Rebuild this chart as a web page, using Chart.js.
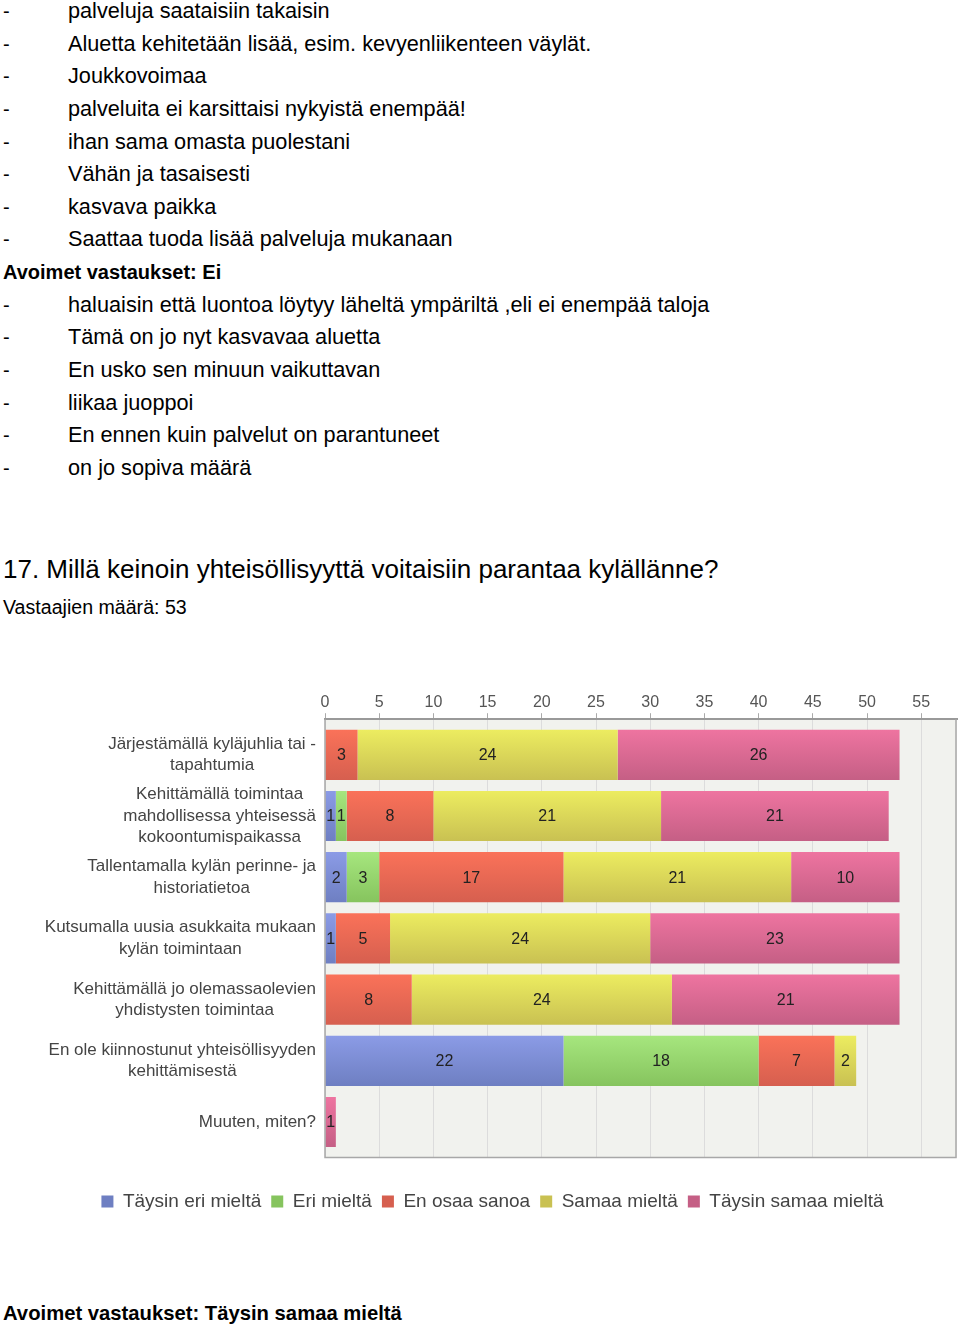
<!DOCTYPE html>
<html>
<head>
<meta charset="utf-8">
<script src="https://cdn.jsdelivr.net/npm/chart.js@4"></script>
<style>
  body { margin: 0; background: #fff; font-family: 'Liberation Sans', Arial, sans-serif; color: #000; }
  .page { position: relative; width: 960px; height: 1331px; overflow: hidden; }
  .answers { position: absolute; left: 0; top: -5px; font-size: 20px; line-height: 32.65px; }
  .answers div { position: relative; height: 32.65px; white-space: nowrap; }
  .answers .d { position: absolute; left: 3px; }
  .answers .t { position: absolute; left: 68px; font-size: 21.7px; }
  .answers .h { position: absolute; left: 3px; font-weight: bold; }
  .q { position: absolute; left: 3px; top: 554px; font-size: 26px; white-space: nowrap; }
  .n { position: absolute; left: 3px; top: 596px; font-size: 19.6px; white-space: nowrap; }
  .foot { position: absolute; left: 3px; top: 1302px; font-size: 20.25px; font-weight: bold; white-space: nowrap; }
  .chartbox { position: absolute; left: 0; top: 680px; width: 960px; height: 560px; }
</style>
</head>
<body>
<div class="page">
  <div class="answers">
    <div><span class="d">-</span><span class="t">palveluja saataisiin takaisin</span></div>
    <div><span class="d">-</span><span class="t">Aluetta kehitetään lisää, esim. kevyenliikenteen väylät.</span></div>
    <div><span class="d">-</span><span class="t">Joukkovoimaa</span></div>
    <div><span class="d">-</span><span class="t">palveluita ei karsittaisi nykyistä enempää!</span></div>
    <div><span class="d">-</span><span class="t">ihan sama omasta puolestani</span></div>
    <div><span class="d">-</span><span class="t">Vähän ja tasaisesti</span></div>
    <div><span class="d">-</span><span class="t">kasvava paikka</span></div>
    <div><span class="d">-</span><span class="t">Saattaa tuoda lisää palveluja mukanaan</span></div>
    <div><span class="h">Avoimet vastaukset: Ei</span></div>
    <div><span class="d">-</span><span class="t">haluaisin että luontoa löytyy läheltä ympäriltä ,eli ei enempää taloja</span></div>
    <div><span class="d">-</span><span class="t">Tämä on jo nyt kasvavaa aluetta</span></div>
    <div><span class="d">-</span><span class="t">En usko sen minuun vaikuttavan</span></div>
    <div><span class="d">-</span><span class="t">liikaa juoppoi</span></div>
    <div><span class="d">-</span><span class="t">En ennen kuin palvelut on parantuneet</span></div>
    <div><span class="d">-</span><span class="t">on jo sopiva määrä</span></div>
  </div>
  <div class="q">17. Millä keinoin yhteisöllisyyttä voitaisiin parantaa kylällänne?</div>
  <div class="n">Vastaajien määrä: 53</div>
  <div class="chartbox"><canvas id="chart"></canvas></div>
  <div class="foot">Avoimet vastaukset: Täysin samaa mieltä</div>
</div>
<script>
const categories = [
  ['Järjestämällä kyläjuhlia tai -', 'tapahtumia'],
  ['Kehittämällä toimintaa', 'mahdollisessa yhteisessä', 'kokoontumispaikassa'],
  ['Tallentamalla kylän perinne- ja', 'historiatietoa'],
  ['Kutsumalla uusia asukkaita mukaan', 'kylän toimintaan'],
  ['Kehittämällä jo olemassaolevien', 'yhdistysten toimintaa'],
  ['En ole kiinnostunut yhteisöllisyyden', 'kehittämisestä'],
  ['Muuten, miten?']
];
const seriesNames = ['Täysin eri mieltä', 'Eri mieltä', 'En osaa sanoa', 'Samaa mieltä', 'Täysin samaa mieltä'];
const taysinEri = [0, 1, 2, 1, 0, 22, 0];
const eri = [0, 1, 3, 0, 0, 18, 0];
const enOsaa = [3, 8, 17, 5, 8, 7, 0];
const samaa = [24, 21, 21, 24, 24, 2, 0];
const taysinSamaa = [26, 21, 10, 23, 21, 0, 1];
const xTicks = [0, 5, 10, 15, 20, 25, 30, 35, 40, 45, 50, 55];
const xMax = 58.3;

// top / bottom colour of each bar gradient, flat colour for the legend
const colours = [
  ['#8b9be6', '#6e7fc2', '#7b8bd6'],
  ['#a6e67e', '#86c45e', '#8fd06a'],
  ['#fa7259', '#d65f4f', '#ee6a55'],
  ['#ecec60', '#c9c152', '#d8d458'],
  ['#ee74a0', '#c55f85', '#e06890']
];

function barFill(i) {
  return function (c) {
    const chart = c.chart;
    const y = chart.scales.y;
    if (c.type !== 'data' || !y) return colours[i][2];
    const mid = y.getPixelForValue(c.dataIndex);
    if (!Number.isFinite(mid)) return colours[i][2];
    const g = chart.ctx.createLinearGradient(0, mid - 25, 0, mid + 25);
    g.addColorStop(0, colours[i][0]);
    g.addColorStop(1, colours[i][1]);
    return g;
  };
}

const values = [taysinEri, eri, enOsaa, samaa, taysinSamaa];

// y category band starts 5px inside the frame at top and bottom
const insetRows = {
  id: 'insetRows',
  afterLayout(chart) {
    const y = chart.scales.y;
    y.top += 5;
    y.bottom -= 5;
    y.height -= 10;
    y.configure();
  }
};

const plotFrame = {
  id: 'plotFrame',
  beforeDraw(chart) {
    const a = chart.chartArea, ctx = chart.ctx;
    ctx.save();
    ctx.fillStyle = '#f1f2ee';
    ctx.fillRect(a.left, a.top, a.right - a.left, a.bottom - a.top);
    ctx.restore();
  },
  afterDraw(chart) {
    const a = chart.chartArea, ctx = chart.ctx;
    ctx.save();
    ctx.strokeStyle = '#a8a8a8';
    ctx.lineWidth = 1.5;
    ctx.beginPath();
    ctx.moveTo(a.left, a.top);
    ctx.lineTo(a.left, a.bottom);
    ctx.lineTo(a.right - 1, a.bottom);
    ctx.lineTo(a.right - 1, a.top);
    ctx.stroke();
    ctx.restore();
  }
};

const rowLabels = {
  id: 'rowLabels',
  afterDraw(chart) {
    const ctx = chart.ctx, y = chart.scales.y;
    const right = 316, lh = 21.5;
    ctx.save();
    ctx.font = '17px "Liberation Sans", Arial, sans-serif';
    ctx.fillStyle = '#444';
    ctx.textAlign = 'center';
    ctx.textBaseline = 'middle';
    categories.forEach((lines, i) => {
      const w = Math.max(...lines.map(s => ctx.measureText(s).width));
      const cx = right - w / 2;
      const mid = y.getPixelForValue(i);
      lines.forEach((s, j) => {
        ctx.fillText(s, cx, mid + (j - (lines.length - 1) / 2) * lh);
      });
    });
    ctx.restore();
  }
};

const barValues = {
  id: 'barValues',
  afterDatasetsDraw(chart) {
    const ctx = chart.ctx;
    ctx.save();
    ctx.font = '16px "Liberation Sans", Arial, sans-serif';
    ctx.fillStyle = '#222';
    ctx.textAlign = 'center';
    ctx.textBaseline = 'middle';
    chart.data.datasets.forEach((ds, di) => {
      chart.getDatasetMeta(di).data.forEach((bar, i) => {
        const v = ds.data[i];
        if (!v) return;
        const p = bar.getProps(['x', 'y', 'base'], true);
        ctx.fillText(String(v), (p.x + p.base) / 2, p.y + 1);
      });
    });
    ctx.restore();
  }
};

new Chart(document.getElementById('chart'), {
  type: 'bar',
  data: {
    labels: categories,
    datasets: seriesNames.map((name, i) => ({
      label: name,
      data: values[i],
      backgroundColor: barFill(i),
      borderWidth: 0,
      categoryPercentage: 1,
      barPercentage: 0.82
    }))
  },
  options: {
    indexAxis: 'y',
    responsive: true,
    maintainAspectRatio: false,
    animation: false,
    events: [],
    layout: { padding: { left: 28, right: 3, top: 12, bottom: 19 } },
    scales: {
      x: {
        position: 'top',
        stacked: true,
        min: 0,
        max: xMax,
        afterBuildTicks(scale) {
          scale.ticks = xTicks.map(v => ({ value: v }));
        },
        ticks: {
          padding: 1,
          color: '#555',
          autoSkip: false,
          font: { family: '"Liberation Sans", Arial, sans-serif', size: 16 }
        },
        grid: { color: '#dcdcdc', tickColor: '#aaa', tickLength: 6 },
        border: { display: true, color: '#999', width: 2 }
      },
      y: {
        stacked: true,
        ticks: { display: false },
        grid: { display: false },
        border: { display: false },
        afterFit(scale) { scale.width = 297; }
      }
    },
    plugins: {
      tooltip: { enabled: false },
      legend: {
        position: 'bottom',
        title: { display: true, text: '', font: { size: 2 }, padding: { top: 0, bottom: 22 } },
        labels: {
          boxWidth: 12,
          boxHeight: 12,
          padding: 10,
          color: '#444',
          font: { family: '"Liberation Sans", Arial, sans-serif', size: 19 }
        }
      }
    }
  },
  plugins: [insetRows, plotFrame, rowLabels, barValues]
});
</script>
</body>
</html>
